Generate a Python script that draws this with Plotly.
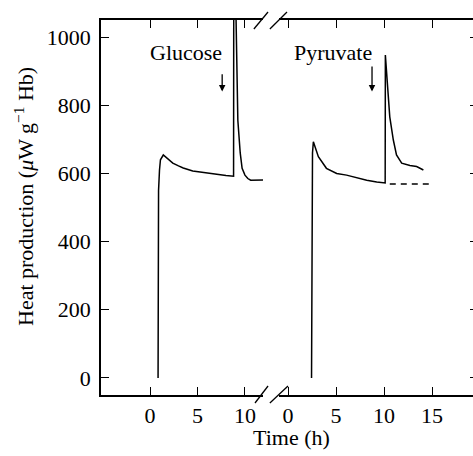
import plotly.graph_objects as go

# Glucose panel (left)
glc_t = [0.85, 0.87, 0.9, 1.0, 1.1, 1.4, 1.8, 2.4, 3.0, 3.5, 4.5, 5.0, 6.0, 7.0, 7.4, 8.0, 8.8,
         8.82, 9.0, 9.25, 9.5, 9.7, 10.0, 10.3, 10.6, 11.0, 11.6, 11.9]
glc_v = [0, 300, 550, 610, 640, 654, 645, 630, 622, 616, 607, 605, 601, 597, 595, 594, 592,
         1150, 1150, 756, 660, 615, 595, 585, 580, 580, 581, 581]

# Pyruvate panel (right)
pyr_t = [2.45, 2.47, 2.55, 2.64, 3.16, 4.0, 5.07, 6.1, 7.15, 8.2, 9.24, 10.0, 10.12,
         10.14, 10.35, 10.6, 10.97, 11.3, 11.84, 12.7, 13.4, 14.1]
pyr_v = [0, 400, 660, 693, 649, 615, 600, 595, 587, 580, 575, 572, 572,
         947, 854, 766, 698, 654, 630, 623, 620, 610]

# Baseline (dashed) after pyruvate
base_t = [10.6, 14.7]
base_v = [569, 569]

x_ticks_left = [0, 5, 10]
x_ticks_right = [0, 5, 10, 15]
y_ticks = [0, 200, 400, 600, 800, 1000]

FONT = "Liberation Serif, Times New Roman, DejaVu Serif, serif"
FS = 22
line = dict(color="black", width=1.5)

fig = go.Figure()
fig.add_trace(go.Scatter(x=glc_t, y=glc_v, mode="lines", line=line, xaxis="x", yaxis="y",
                         showlegend=False))
fig.add_trace(go.Scatter(x=pyr_t, y=pyr_v, mode="lines", line=line, xaxis="x2", yaxis="y2",
                         showlegend=False))
fig.add_trace(go.Scatter(x=base_t, y=base_v, mode="lines",
                         line=dict(color="black", width=1.4, dash="6px,5px"),
                         xaxis="x2", yaxis="y2", showlegend=False))

axis_common = dict(showgrid=False, zeroline=False, showline=True, linecolor="black",
                   linewidth=1.5, ticks="inside", ticklen=8, tickcolor="black", tickwidth=1.2,
                   automargin=False,
                   tickfont=dict(family=FONT, size=FS, color="black"))

fig.update_layout(
    template="none",
    width=473, height=456,
    margin=dict(l=101, r=0, t=20, b=61, autoexpand=False),
    plot_bgcolor="white", paper_bgcolor="white",
    font=dict(family=FONT, size=FS, color="black"),
    xaxis=dict(domain=[0, 0.4355], range=[-5.16, 11.9], tickvals=x_ticks_left,
               mirror="ticks", anchor="y", **axis_common),
    xaxis2=dict(domain=[0.4785, 1], range=[-0.94, 19.27], tickvals=x_ticks_right,
                mirror="ticks", anchor="y2", **axis_common),
    yaxis=dict(range=[-50, 1050], tickvals=y_ticks, anchor="x", ticklabelstandoff=4,
               **axis_common),
    yaxis2=dict(range=[-50, 1050], tickvals=y_ticks, anchor="x2", overlaying="y",
                side="right", showgrid=False, zeroline=False, showline=False,
                automargin=False,
                ticks="inside", ticklen=3, tickcolor="black", showticklabels=False),
)

# axis break slashes
for x0, y0, x1, y1 in [(0.414, -0.0213, 0.449, 0.024), (0.454, -0.0213, 0.5027, 0.024),
                       (0.411, 0.976, 0.449, 1.0213), (0.454, 0.976, 0.5, 1.0213)]:
    fig.add_shape(type="line", xref="paper", yref="paper", x0=x0, y0=y0, x1=x1, y1=y1,
                  line=dict(color="black", width=1.3))

tf = dict(family=FONT, size=FS, color="black")
fig.add_annotation(text="Glucose", x=3.8, y=956, xref="x", yref="y", showarrow=False, font=tf)
fig.add_annotation(text="Pyruvate", x=4.7, y=956, xref="x2", yref="y2", showarrow=False, font=tf)
fig.add_annotation(text="", x=7.6, y=840, ax=7.6, ay=895, xref="x", yref="y", axref="x",
                   ayref="y", showarrow=True, arrowhead=2, arrowsize=1, arrowwidth=1.3,
                   arrowcolor="black")
fig.add_annotation(text="", x=8.75, y=840, ax=8.75, ay=918, xref="x2", yref="y2", axref="x2",
                   ayref="y2", showarrow=True, arrowhead=2, arrowsize=1, arrowwidth=1.3,
                   arrowcolor="black")

# axis titles
fig.add_annotation(text="Time (h)", xref="paper", yref="paper", x=0.511, y=-0.112,
                   yanchor="middle", showarrow=False, font=tf)
fig.add_annotation(text="Heat production (<i>μ</i>W g<sup>−1</sup> Hb)", xref="paper",
                   yref="paper", x=(24 - 101) / 372, y=(395 - 197) / 375, textangle=-90,
                   showarrow=False, font=tf, xanchor="center", yanchor="middle")

fig.write_html("out.html",
               config={"displayModeBar": False},
               post_script="document.body.style.margin='0px';"
                           "document.body.style.overflow='hidden';")
